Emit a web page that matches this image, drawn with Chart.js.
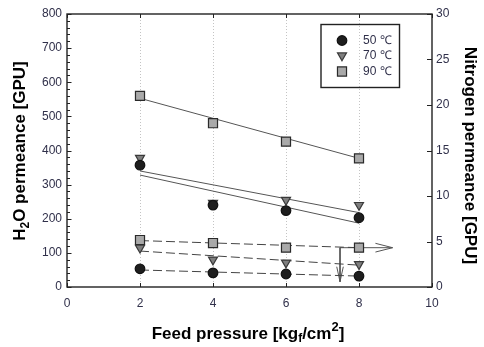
<!DOCTYPE html>
<html><head><meta charset="utf-8">
<script src="https://cdn.jsdelivr.net/npm/chart.js@4.4.0/dist/chart.umd.min.js"></script>
<style>html,body{margin:0;padding:0;background:#fff;}canvas{display:block;}</style>
</head><body>
<canvas id="c" width="484" height="347"></canvas>
<script>
// ---- data ----
const pressure = [2, 4, 6, 8];
const temps = ['50 \u2103', '70 \u2103', '90 \u2103'];
const h2o50 = [357, 240, 224, 203];
const h2o70 = [378, 246, 255, 240];
const h2o90 = [560, 480, 426, 377];
const n2_50 = [2.0, 1.55, 1.43, 1.2];
const n2_70 = [4.3, 3.0, 2.67, 2.5];
const n2_90 = [5.16, 4.83, 4.32, 4.32];
const fitX = [2, 8];
const h2oFit90 = [553, 377];
const h2oFit70 = [340, 218];
const h2oFit50 = [328, 187];
const n2Fit90 = [5.1, 4.32];
const n2Fit70 = [3.95, 2.4];
const n2Fit50 = [1.87, 1.2];
const xTicks = [0, 2, 4, 6, 8, 10];
const yLeftTicks = [0, 100, 200, 300, 400, 500, 600, 700, 800];
const yRightTicks = [0, 5, 10, 15, 20, 25, 30];
// arrow annotation, in axis units (x, right axis)
const arrowHx = [7.48, 8.92];
const arrowHy = [4.32, 4.32];
const arrowHheadX = [8.45, 8.92, 8.45];
const arrowHheadY = [4.8, 4.32, 3.84];
const arrowVx = [7.48, 7.48];
const arrowVy = [4.32, 0.58];
const arrowVheadX = [7.39, 7.48, 7.57];
const arrowVheadY = [2.23, 0.58, 2.23];

const pts = (xs, ys) => xs.map((x, i) => ({x: x, y: ys[i]}));
const FONT = "'Liberation Sans', Arial, Helvetica, sans-serif";
const TXT = '#30304a';

const markerStyles = [
  {pointStyle: 'circle', radius: 4.8, rotation: 0, bg: '#1e1e1e', border: '#111'},
  {pointStyle: 'triangle', radius: 5.2, rotation: 180, bg: '#7f7f7f', border: '#3a3a3a'},
  {pointStyle: 'rect', radius: 6.4, rotation: 0, bg: '#a9a9a9', border: '#2a2a2a'}
];
const h2oSeries = [h2o50, h2o70, h2o90];
const n2Series = [n2_50, n2_70, n2_90];

const datasets = [];
[0, 1, 2].forEach(i => {
  const m = markerStyles[i];
  [[h2oSeries[i], 'y'], [n2Series[i], 'y2']].forEach(([vals, ax]) => {
    datasets.push({
      data: pts(pressure, vals), yAxisID: ax, showLine: false,
      pointStyle: m.pointStyle, pointRadius: m.radius, pointRotation: m.rotation,
      pointBackgroundColor: m.bg, pointBorderColor: m.border, pointBorderWidth: 1.2
    });
  });
});
const lineDs = (data, ax, color, dash, w) => ({
  data: data, yAxisID: ax, showLine: true, pointRadius: 0, borderColor: color,
  borderWidth: w || 1, borderDash: dash || [], fill: false, tension: 0
});
datasets.push(lineDs(pts(fitX, h2oFit90), 'y', '#555'));
datasets.push(lineDs(pts(fitX, h2oFit70), 'y', '#555'));
datasets.push(lineDs(pts(fitX, h2oFit50), 'y', '#555'));
datasets.push(lineDs(pts(fitX, n2Fit90), 'y2', '#444', [9, 4]));
datasets.push(lineDs(pts(fitX, n2Fit70), 'y2', '#444', [9, 4]));
datasets.push(lineDs(pts(fitX, n2Fit50), 'y2', '#444', [9, 4]));
datasets.push(lineDs(pts(arrowHx, arrowHy), 'y2', '#555'));
datasets.push(lineDs(pts(arrowHheadX, arrowHheadY), 'y2', '#555'));
datasets.push(lineDs(pts(arrowVx, arrowVy), 'y2', '#555'));
datasets.push(lineDs(pts(arrowVheadX, arrowVheadY), 'y2', '#555'));

const gridPlugin = {
  id: 'gridPlugin',
  beforeDatasetsDraw(chart) {
    const {ctx, chartArea: a, scales} = chart;
    ctx.save();
    ctx.strokeStyle = '#c4c4c4';
    ctx.lineWidth = 1;
    ctx.setLineDash([1, 2]);
    xTicks.forEach(v => {
      if (v === 0 || v === 10) return;
      const x = Math.round(scales.x.getPixelForValue(v)) + 0.5;
      ctx.beginPath(); ctx.moveTo(x, a.top); ctx.lineTo(x, a.bottom); ctx.stroke();
    });
    ctx.restore();
  },
  afterDatasetsDraw(chart) {
    const {ctx, chartArea: a, scales} = chart;
    ctx.save();
    ctx.strokeStyle = '#222';
    ctx.lineWidth = 1.4;
    ctx.strokeRect(a.left, a.top, a.right - a.left, a.bottom - a.top);
    ctx.lineWidth = 1;
    ctx.beginPath();
    for (let v = 0; v <= 800; v += 20) {
      const y = Math.round(scales.y.getPixelForValue(v)) + 0.5;
      const len = (v % 100 === 0) ? 4.5 : 3;
      ctx.moveTo(a.left, y); ctx.lineTo(a.left + len, y);
    }
    yRightTicks.forEach(v => {
      const y = Math.round(scales.y2.getPixelForValue(v)) + 0.5;
      ctx.moveTo(a.right, y); ctx.lineTo(a.right - 5, y);
    });
    xTicks.forEach(v => {
      const x = Math.round(scales.x.getPixelForValue(v)) + 0.5;
      ctx.moveTo(x, a.top); ctx.lineTo(x, a.top + 4);
      ctx.moveTo(x, a.bottom); ctx.lineTo(x, a.bottom - 4);
    });
    ctx.stroke();
    ctx.restore();
  },
  afterDraw(chart) {
    const ctx = chart.ctx;
    ctx.save();
    ctx.strokeStyle = '#222';
    ctx.lineWidth = 1.4;
    ctx.strokeRect(321, 24.5, 78.5, 63);
    const rows = [40.5, 55.5, 71.5];
    temps.forEach((t, i) => {
      const m = markerStyles[i];
      const x = 342, y = rows[i];
      ctx.fillStyle = m.bg; ctx.strokeStyle = m.border; ctx.lineWidth = 1.2;
      ctx.beginPath();
      if (m.pointStyle === 'circle') {
        ctx.arc(x, y, m.radius, 0, Math.PI * 2);
      } else if (m.pointStyle === 'triangle') {
        const r = m.radius;
        ctx.moveTo(x, y + r);
        ctx.lineTo(x + r * Math.sin(Math.PI / 3), y - r / 2);
        ctx.lineTo(x - r * Math.sin(Math.PI / 3), y - r / 2);
        ctx.closePath();
      } else {
        const s = Math.SQRT1_2 * m.radius;
        ctx.rect(x - s, y - s, 2 * s, 2 * s);
      }
      ctx.fill(); ctx.stroke();
      ctx.fillStyle = TXT;
      ctx.font = '12px ' + FONT;
      ctx.textBaseline = 'middle';
      ctx.textAlign = 'left';
      ctx.fillText(t, 363, y);
    });
    const rich = (parts, cx, cy, rot) => {
      ctx.save();
      ctx.translate(cx, cy);
      ctx.rotate(rot);
      ctx.textBaseline = 'alphabetic';
      ctx.textAlign = 'left';
      ctx.fillStyle = '#000';
      let w = 0;
      parts.forEach(p => { ctx.font = 'bold ' + p.s + 'px ' + FONT; p.w = ctx.measureText(p.t).width; w += p.w; });
      let x = -w / 2;
      parts.forEach(p => { ctx.font = 'bold ' + p.s + 'px ' + FONT; ctx.fillText(p.t, x, p.dy || 0); x += p.w; });
      ctx.restore();
    };
    rich([{t: 'H', s: 17}, {t: '2', s: 12, dy: 4}, {t: 'O permeance [GPU]', s: 17}], 25, 151, -Math.PI / 2);
    rich([{t: 'Nitrogen permeance [GPU]', s: 17}], 465, 155.5, Math.PI / 2);
    rich([{t: 'Feed pressure [kg', s: 17}, {t: 'f', s: 12, dy: 3}, {t: '/cm', s: 17}, {t: '2', s: 13, dy: -8}, {t: ']', s: 17}], 248, 339, 0);
    ctx.restore();
  }
};

const tickFont = {family: FONT, size: 12};
new Chart(document.getElementById('c'), {
  type: 'scatter',
  data: {datasets: datasets},
  options: {
    responsive: false, animation: false, devicePixelRatio: 1,
    layout: {padding: {top: 14, left: 0, right: 0, bottom: 0}},
    plugins: {legend: {display: false}, tooltip: {enabled: false}},
    scales: {
      x: {
        type: 'linear', position: 'bottom', min: 0, max: 10,
        afterBuildTicks: s => { s.ticks = xTicks.map(v => ({value: v})); },
        afterFit: s => { s.height = 60; },
        ticks: {padding: 9, font: tickFont, color: TXT, maxRotation: 0, autoSkip: false},
        grid: {display: false, drawTicks: false}, border: {display: false}
      },
      y: {
        type: 'linear', position: 'left', min: 0, max: 800,
        afterBuildTicks: s => { s.ticks = yLeftTicks.map(v => ({value: v})); },
        afterFit: s => { s.width = 67; },
        ticks: {padding: 5, font: tickFont, color: TXT, autoSkip: false},
        grid: {display: false, drawTicks: false}, border: {display: false}
      },
      y2: {
        type: 'linear', position: 'right', min: 0, max: 30,
        afterBuildTicks: s => { s.ticks = yRightTicks.map(v => ({value: v})); },
        afterFit: s => { s.width = 52; },
        ticks: {padding: 4, font: tickFont, color: TXT, autoSkip: false},
        grid: {display: false, drawTicks: false}, border: {display: false}
      }
    }
  },
  plugins: [gridPlugin]
});
</script>
</body></html>
